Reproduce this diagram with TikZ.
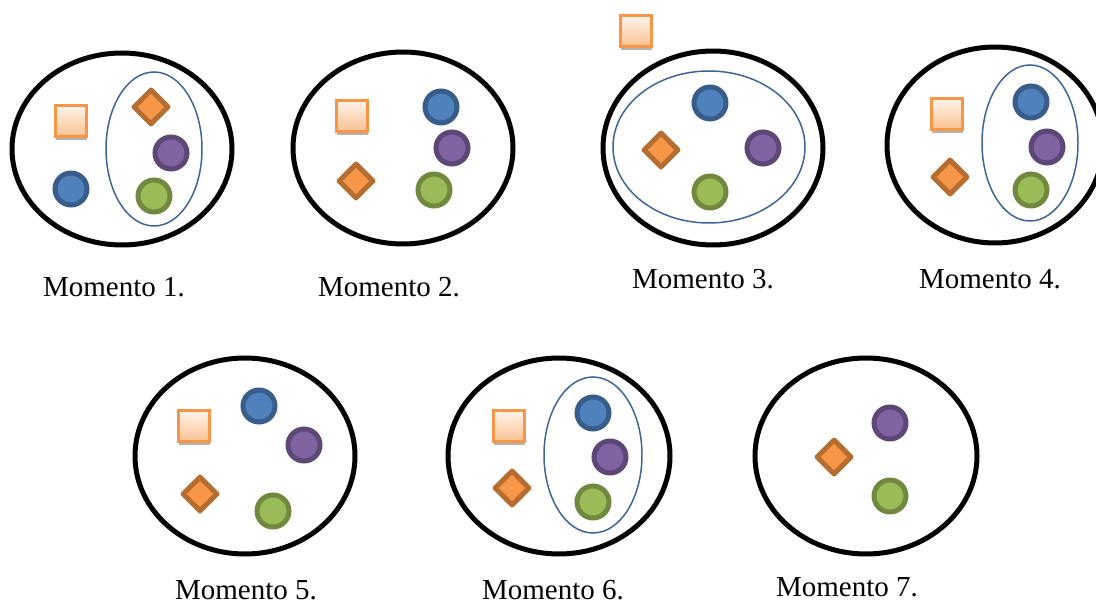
\documentclass[tikz,border=0pt]{standalone}
\usepackage{fontspec}
\setmainfont{Liberation Serif}
\usetikzlibrary{shapes.geometric,%
                shadows}
\definecolor{azulf}{HTML}{4F81BD}
\definecolor{azulb}{HTML}{385D8A}
\definecolor{morf}{HTML}{8064A2}
\definecolor{morb}{HTML}{5C4776}
\definecolor{verf}{HTML}{9BBB59}
\definecolor{verb}{HTML}{71893F}
\definecolor{naf}{HTML}{F79646}
\definecolor{nab}{HTML}{B66D31}
\definecolor{grupoc}{HTML}{3E6497}
\tikzstyle{bola}=[circle, line width=0.1cm, minimum size=0.64cm, inner sep=0pt]
\tikzstyle{qblu}=[bola, fill=azulf, draw=azulb]
\tikzstyle{qmor}=[bola, fill=morf, draw=morb]
\tikzstyle{qver}=[bola, fill=verf, draw=verb]
\tikzstyle{qrom}=[diamond, fill=naf, draw=nab, line width=0.1cm, line join=round, minimum size=0.72cm, inner sep=0pt]
\tikzstyle{qcua}=[rectangle, draw=naf, line width=1.3pt, minimum size=0.62cm, inner sep=0pt,
                  top color=orange!8, bottom color=naf!60,
                  drop shadow={opacity=0.5, fill=black!60, shadow xshift=0.5pt, shadow yshift=-2pt}]
\tikzstyle{grande}=[draw=black, line width=0.1cm]
\tikzstyle{grupo}=[draw=grupoc, line width=0.85pt]
\tikzstyle{etiq}=[anchor=base, inner sep=0pt, font=\fontsize{16.5}{19}\selectfont]

\begin{document}
\begin{tikzpicture}[x=0.02cm, y=-0.02cm]
  \useasboundingbox (0,0) rectangle (1096,604);
  % Momento 1
  \draw[grande] (122,149) ellipse (110 and 96);
  \draw[grupo] (154,149) ellipse (48 and 77);
  \node[qcua] (c1) at (71,121) {};
  \node[qrom] (r1) at (151,107) {};
  \node[qmor] (m1) at (171,153) {};
  \node[qblu] (a1) at (71,189) {};
  \node[qver] (v1) at (154,196) {};
  \node[etiq] (t1) at (114,297) {Momento 1.};
  % Momento 2
  \draw[grande] (403,148) ellipse (110 and 96);
  \node[qcua] (c2) at (352,116) {};
  \node[qblu] (a2) at (441,107) {};
  \node[qmor] (m2) at (452,148) {};
  \node[qrom] (r2) at (356,181) {};
  \node[qver] (v2) at (434,190) {};
  \node[etiq] (t2) at (389,297) {Momento 2.};
  % Momento 3
  \draw[grande] (713,148) ellipse (110 and 97);
  \draw[grupo] (709,147) ellipse (96 and 76);
  \node[qcua] (c3) at (636,31) {};
  \node[qblu] (a3) at (710,103) {};
  \node[qmor] (m3) at (763,148) {};
  \node[qrom] (r3) at (661,150) {};
  \node[qver] (v3) at (710,192) {};
  \node[etiq] (t3) at (703,289) {Momento 3.};
  % Momento 4
  \draw[grande] (995,145) ellipse (108 and 98);
  \draw[grupo] (1030,143) ellipse (48 and 78);
  \node[qcua] (c4) at (947,114) {};
  \node[qblu] (a4) at (1031,102) {};
  \node[qmor] (m4) at (1047,147) {};
  \node[qrom] (r4) at (950,177) {};
  \node[qver] (v4) at (1031,190) {};
  \node[etiq] (t4) at (990,289) {Momento 4.};
  % Momento 5
  \draw[grande] (245,456) ellipse (110 and 98);
  \node[qcua] (c5) at (194,426) {};
  \node[qblu] (a5) at (259,406) {};
  \node[qmor] (m5) at (304,445) {};
  \node[qrom] (r5) at (200,494) {};
  \node[qver] (v5) at (273,511) {};
  \node[etiq] (t5) at (246,600) {Momento 5.};
  % Momento 6
  \draw[grande] (559,456) ellipse (111 and 98);
  \draw[grupo] (593,455) ellipse (49 and 78);
  \node[qcua] (c6) at (509,426) {};
  \node[qblu] (a6) at (593,413) {};
  \node[qmor] (m6) at (610,457) {};
  \node[qrom] (r6) at (512,488) {};
  \node[qver] (v6) at (593,502) {};
  \node[etiq] (t6) at (553,600) {Momento 6.};
  % Momento 7
  \draw[grande] (866,456) ellipse (111 and 98);
  \node[qmor] (m7) at (890,423) {};
  \node[qrom] (r7) at (834,457) {};
  \node[qver] (v7) at (890,496) {};
  \node[etiq] (t7) at (847,597) {Momento 7.};
\end{tikzpicture}
\end{document}
